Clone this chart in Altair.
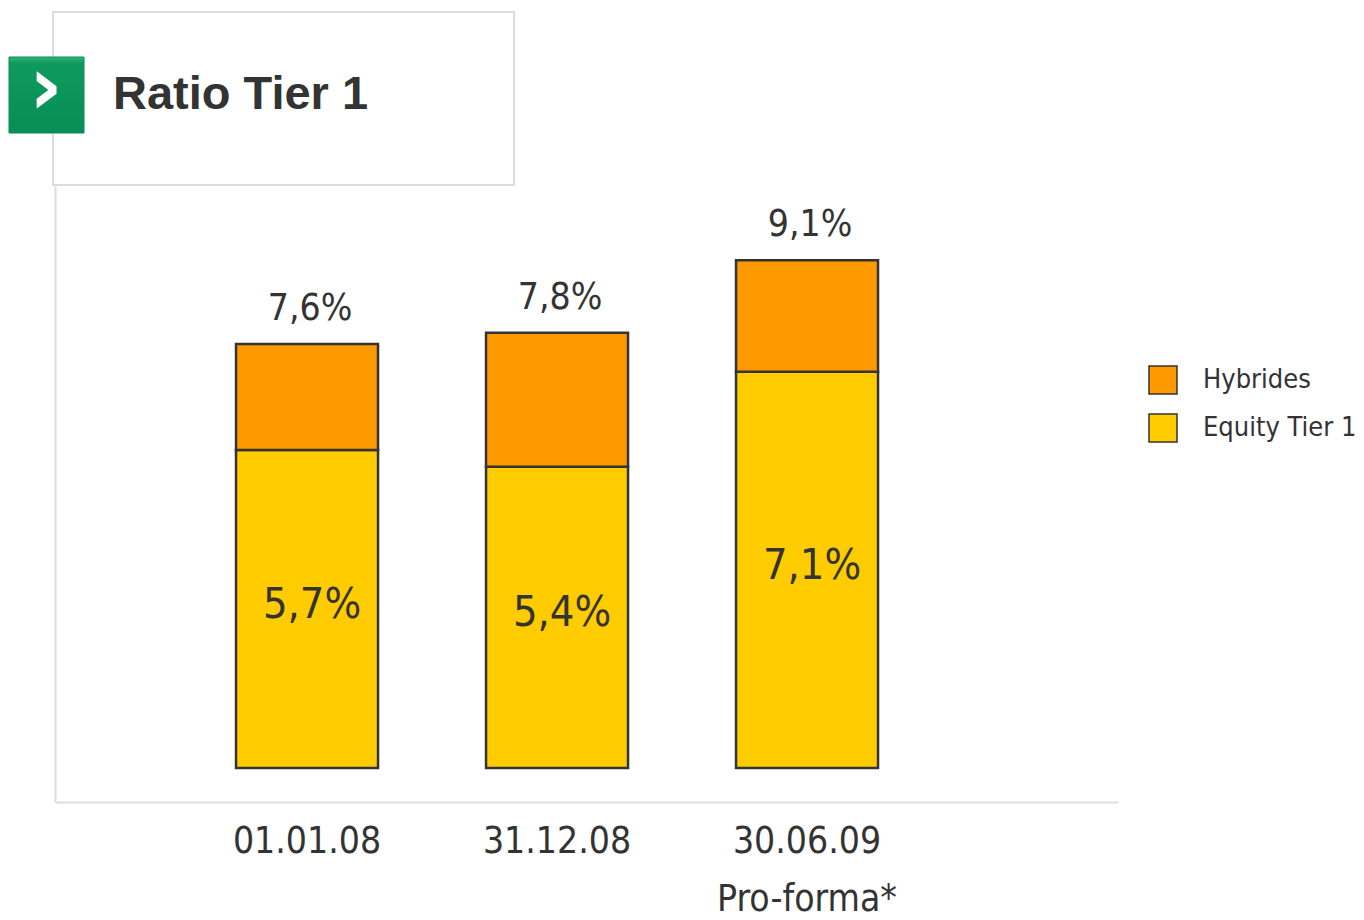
import altair as alt
import pandas as pd

# ---- data ----
dates = ["01.01.08", "31.12.08", "30.06.09|Pro-forma*"]
equity = [5.7, 5.4, 7.1]          # Equity Tier 1
totals = [7.6, 7.8, 9.1]          # Tier 1 total
series = ["Hybrides", "Equity Tier 1"]
colors = ["#FF9900", "#FFCC00"]

def fmt(v):
    return f"{v:.1f}".replace(".", ",") + "%"

rows = []
for d, e, t in zip(dates, equity, totals):
    rows.append({"date": d, "serie": "Equity Tier 1", "value": e, "ord": 0})
    rows.append({"date": d, "serie": "Hybrides", "value": round(t - e, 2), "ord": 1})
stack_df = pd.DataFrame(rows)

lab_df = pd.DataFrame({
    "date": dates,
    "total": totals,
    "equity": equity,
    "total_lab": [fmt(v) for v in totals],
    "eq_lab": [fmt(v) for v in equity],
})

NARROW = "'DejaVu Sans Condensed', 'Roboto', sans-serif"
TXT = "#333333"

xscale = alt.Scale(domain=dates, paddingInner=0.432, paddingOuter=0.842, align=0.43)
yscale = alt.Scale(domain=[-0.61, 10.43], nice=False, zero=False)

xaxis = alt.Axis(title=None, ticks=False, labelAngle=0, labelFont=NARROW,
                 labelFontSize=37, labelColor=TXT, labelPadding=21,
                 labelBaseline="top", labelLineHeight=58, labelLimit=400,
                 labelExpr="split(datum.label, '|')",
                 domainColor="#dddddd", domainWidth=2)
yaxis = alt.Axis(title=None, labels=False, ticks=False, grid=False,
                 domainColor="#dddddd", domainWidth=2)

bars = alt.Chart(stack_df).mark_bar(stroke="#333333", strokeWidth=2.5).encode(
    x=alt.X("date:N", scale=xscale, axis=xaxis, sort=dates),
    y=alt.Y("value:Q", scale=yscale, axis=yaxis, stack="zero"),
    color=alt.Color("serie:N", scale=alt.Scale(domain=series, range=colors),
                    legend=alt.Legend(title=None, orient="none", legendX=1093, legendY=179,
                                      symbolType="square", symbolSize=784,
                                      symbolStrokeColor="#333333", symbolStrokeWidth=1.5,
                                      labelFont=NARROW, labelFontSize=27, labelColor=TXT,
                                      labelOffset=25, rowPadding=14, padding=0,
                                      labelLimit=400)),
    order=alt.Order("ord:Q"),
)

top_labels = alt.Chart(lab_df).mark_text(
    font=NARROW, fontSize=37, color=TXT, baseline="alphabetic", dy=-24, dx=3
).encode(
    x=alt.X("date:N", scale=xscale, sort=dates),
    y=alt.Y("total:Q", scale=yscale),
    text="total_lab:N",
)

in_labels = alt.Chart(lab_df).transform_calculate(
    mid="datum.equity / 2"
).mark_text(
    font=NARROW, fontSize=43, color=TXT, baseline="middle", dy=-4, dx=5
).encode(
    x=alt.X("date:N", scale=xscale, sort=dates),
    y=alt.Y("mid:Q", scale=yscale),
    text="eq_lab:N",
)

one = pd.DataFrame({"t": ["Ratio Tier 1"]})

box = alt.Chart(one).mark_rect(fill="white", stroke="#dddddd", strokeWidth=2).encode(
    x=alt.value(-2), x2=alt.value(459), y=alt.value(-174), y2=alt.value(-1)
)
icon = alt.Chart(one).mark_rect(
    fill={"gradient": "linear", "x1": 0, "y1": 0, "x2": 0, "y2": 1,
          "stops": [{"offset": 0, "color": "#2FB77A"},
                    {"offset": 0.08, "color": "#0E9A5E"},
                    {"offset": 1, "color": "#078F55"}]},
    stroke="#0B8A52", strokeWidth=1
).encode(
    x=alt.value(-46), x2=alt.value(29), y=alt.value(-129), y2=alt.value(-53)
)
chevron = alt.Chart(one).mark_text(
    text="›", font="DejaVu Sans", fontWeight="bold", fontSize=82, color="white",
    align="center", baseline="middle"
).encode(x=alt.value(-9), y=alt.value(-97))
title = alt.Chart(one).mark_text(
    font="Liberation Sans", fontWeight="bold", fontSize=47, color=TXT,
    align="left", baseline="alphabetic"
).encode(x=alt.value(58), y=alt.value(-77), text="t:N")

chart = alt.layer(box, icon, chevron, title, bars, top_labels, in_labels).properties(
    width=1063, height=616,
    autosize=alt.AutoSizeParams(type="none"),
    padding={"left": 47, "top": 178, "right": 238, "bottom": 110},
).configure_view(stroke=None)

chart.save("out.html", embed_options={"renderer": "svg", "actions": False})
